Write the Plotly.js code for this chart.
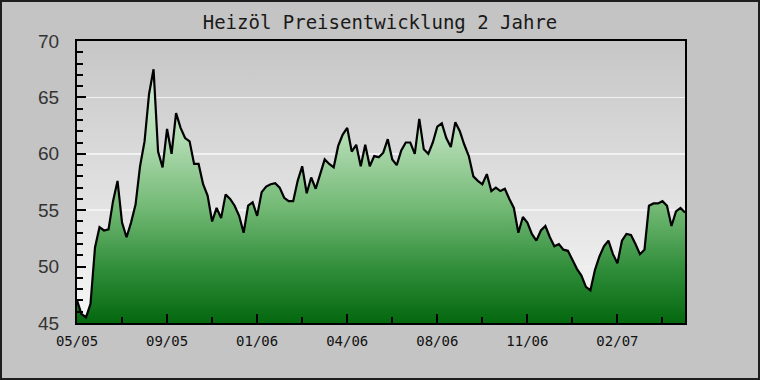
<!DOCTYPE html>
<html>
<head>
<meta charset="utf-8">
<script src="https://cdn.plot.ly/plotly-3.0.1.min.js"></script>
<style>
  html, body { margin: 0; padding: 0; background: #c4c4c4; }
  #frame { width: 760px; height: 380px; box-sizing: border-box; border: 2px solid #1e1e1e; overflow: hidden; }
  #chart { width: 756px; height: 376px; }
</style>
</head>
<body>
<div id="frame"><div id="chart"></div></div>
<script>
// Heating oil price (EUR per 100 l), sampled evenly across the 2-year period
const prices = [
  47.0, 45.8, 45.5, 46.7, 51.7, 53.5, 53.2, 53.3, 55.8, 57.6,
  53.9, 52.6, 53.9, 55.5, 58.9, 61.1, 65.3, 67.5, 60.2, 58.8,
  62.2, 60.0, 63.6, 62.3, 61.4, 61.1, 59.1, 59.1, 57.3, 56.3,
  54.0, 55.2, 54.3, 56.4, 56.0, 55.4, 54.5, 53.0, 55.4, 55.7,
  54.5, 56.6, 57.1, 57.3, 57.4, 57.0, 56.1, 55.8, 55.8, 57.6,
  58.9, 56.5, 57.9, 56.9, 58.2, 59.5, 59.1, 58.8, 60.7, 61.7,
  62.3, 60.2, 60.8, 58.9, 60.8, 58.9, 59.8, 59.7, 60.1, 61.3,
  59.5, 59.0, 60.3, 61.0, 61.0, 60.0, 63.1, 60.4, 60.0, 61.0,
  62.4, 62.7, 61.4, 60.6, 62.8, 62.0, 60.8, 59.8, 58.0, 57.6,
  57.3, 58.2, 56.7, 57.0, 56.7, 56.9, 56.0, 55.2, 53.0, 54.4,
  53.9, 52.9, 52.3, 53.2, 53.6, 52.6, 51.8, 52.0, 51.5, 51.4,
  50.6, 49.8, 49.2, 48.2, 47.9, 49.7, 50.9, 51.8, 52.3, 51.1,
  50.3, 52.3, 52.9, 52.8, 52.0, 51.1, 51.5, 55.4, 55.6, 55.6,
  55.8, 55.4, 53.6, 54.9, 55.2, 54.8
];
const tickIndex = [0, 20, 40, 60, 80, 100, 120];
const tickLabels = ['05/05', '09/05', '01/06', '04/06', '08/06', '11/06', '02/07'];
const yTicks = [45, 50, 55, 60, 65, 70];

const xs = prices.map((_, i) => i);

const bgSvg = '<svg xmlns="http://www.w3.org/2000/svg" width="10" height="100" preserveAspectRatio="none">' +
  '<defs><linearGradient id="g" x1="0" y1="0" x2="0" y2="1">' +
  '<stop offset="0" stop-color="#c6c6c6"/><stop offset="1" stop-color="#f7f7f7"/>' +
  '</linearGradient></defs><rect width="10" height="100" fill="url(#g)"/></svg>';
const bgUri = 'data:image/svg+xml;charset=utf-8,' + encodeURIComponent(bgSvg);

const trace = {
  type: 'scatter',
  mode: 'lines',
  x: xs,
  y: prices,
  fill: 'tozeroy',
  fillgradient: {
    type: 'vertical',
    start: 45,
    stop: 68,
    colorscale: [
      [0, '#04680f'],
      [0.2, '#2e8c38'],
      [0.45, '#74ba76'],
      [0.7, '#b0dab0'],
      [1, '#d8eed8']
    ]
  },
  line: { color: '#000000', width: 2.2 },
  hoverinfo: 'skip'
};

const layout = {
  width: 756,
  height: 376,
  margin: { l: 75, r: 73, t: 39, b: 55 },
  paper_bgcolor: '#c4c4c4',
  plot_bgcolor: 'rgba(0,0,0,0)',
  showlegend: false,
  title: {
    text: 'Heizöl Preisentwicklung 2 Jahre',
    font: { family: 'DejaVu Sans Mono', size: 19, color: '#1a1a1a' },
    x: 0.5, xref: 'container', xanchor: 'center',
    y: 0.947, yref: 'container', yanchor: 'middle'
  },
  images: [{
    source: bgUri, xref: 'paper', yref: 'paper', x: 0, y: 1,
    sizex: 1, sizey: 1, sizing: 'stretch', layer: 'below',
    xanchor: 'left', yanchor: 'top'
  }],
  xaxis: {
    range: [0, prices.length - 1],
    tickmode: 'array',
    tickvals: tickIndex,
    ticktext: tickLabels,
    ticks: 'inside', ticklen: 9, tickwidth: 2, tickcolor: '#000',
    minor: { tickmode: 'linear', tick0: 0, dtick: 10, ticks: 'inside', ticklen: 6, tickwidth: 2, tickcolor: '#000', showgrid: false },
    showgrid: false, zeroline: false,
    showline: true, linecolor: '#000', linewidth: 2, mirror: true,
    tickfont: { family: 'DejaVu Sans Mono', size: 14, color: '#111' },
    ticklabelstandoff: 4,
    fixedrange: true
  },
  yaxis: {
    range: [45, 70],
    tickmode: 'array',
    tickvals: yTicks,
    ticks: 'inside', ticklen: 9, tickwidth: 2, tickcolor: '#000',
    minor: { tickmode: 'linear', tick0: 45, dtick: 1, ticks: 'inside', ticklen: 6, tickwidth: 2, tickcolor: '#000', showgrid: false },
    showgrid: true, gridcolor: '#f2f2f2', gridwidth: 1.5,
    zeroline: false,
    showline: true, linecolor: '#000', linewidth: 2, mirror: true,
    tickfont: { family: 'Liberation Sans', size: 19, color: '#333' },
    ticklabelstandoff: 12,
    fixedrange: true
  }
};

Plotly.newPlot('chart', [trace], layout, { displayModeBar: false, staticPlot: true });
</script>
</body>
</html>
